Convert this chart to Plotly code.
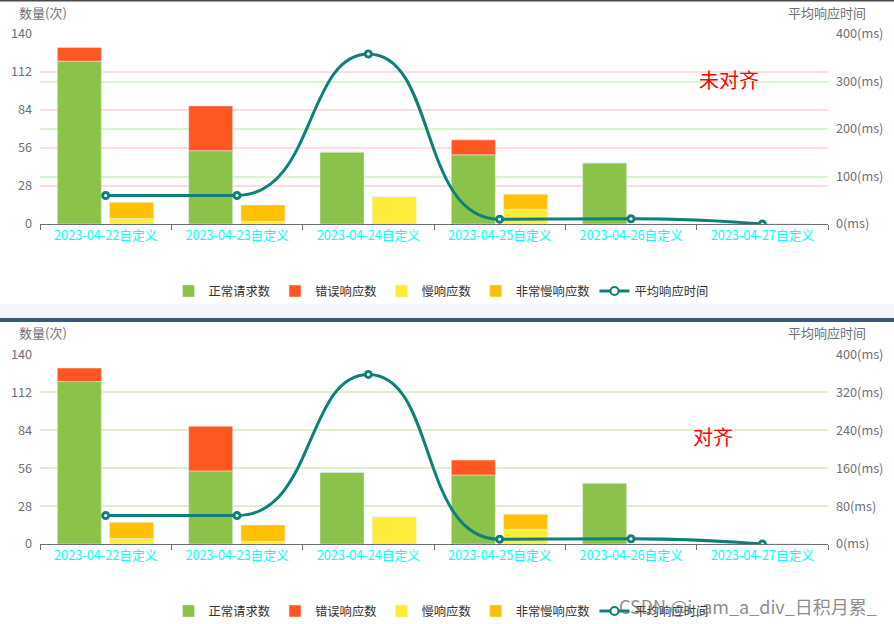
import math
import plotly.graph_objects as go

W, H = 894, 624

categories = ["2023-04-22自定义", "2023-04-23自定义", "2023-04-24自定义",
              "2023-04-25自定义", "2023-04-26自定义", "2023-04-27自定义"]
normal_req = [120, 54, 53, 51, 45, 0]
error_resp = [10, 33, 0, 11, 0, 0]
slow_resp = [4, 2, 20, 11, 0, 0]
very_slow_resp = [12, 12, 0, 11, 0, 0]
avg_resp_ms = [60, 60, 358, 10, 11, 0]

left_ticks = [0, 28, 56, 84, 112, 140]
right_ticks_top = [0, 100, 200, 300, 400]
right_ticks_bottom = [0, 80, 160, 240, 320, 400]

names = ["正常请求数", "错误响应数", "慢响应数", "非常慢响应数", "平均响应时间"]
colors = ["#8BC34A", "#FF5722", "#FFEB3B", "#FFC107", "#0F7F79"]

FONT = "Microsoft YaHei, Noto Sans CJK SC, sans-serif"
AXIS_GRAY = "#6E7079"

PLOT_L, PLOT_R = 40, 828
TOP_Y0, TOP_Y1 = 224, 34
BOT_Y0, BOT_Y1 = 544, 354.5


def px_x(p):
    return p / W


def px_y(p):
    return 1 - p / H


def clamp(v, a, b):
    lo, hi = min(a, b), max(a, b)
    return max(lo, min(hi, v))


def smooth_path(vals, cw, sy, smooth=0.5):
    """ECharts-style smooth bezier through the data points (pixel space),
    returned as an SVG path in data coordinates (category index, value)."""
    pts = [(i * cw, v * sy) for i, v in enumerate(vals)]
    n = len(pts)
    path = "M {:.4f},{:.4f}".format(pts[0][0] / cw, pts[0][1] / sy)
    cpx0, cpy0 = pts[0]
    prevX, prevY = pts[0]
    for k in range(1, n):
        x, y = pts[k]
        if k == n - 1:
            cpx1, cpy1 = x, y
            ncx, ncy = x, y
        else:
            nextX, nextY = pts[k + 1]
            vx, vy = nextX - prevX, nextY - prevY
            lp = math.hypot(x - prevX, y - prevY)
            ln = math.hypot(nextX - x, nextY - y)
            r = ln / (ln + lp)
            ncx = x + vx * smooth * r
            ncy = y + vy * smooth * r
            ncx = clamp(ncx, nextX, x)
            ncy = clamp(ncy, nextY, y)
            vx, vy = ncx - x, ncy - y
            cpx1 = x - vx * lp / ln
            cpy1 = y - vy * lp / ln
            cpx1 = clamp(cpx1, prevX, x)
            cpy1 = clamp(cpy1, prevY, y)
            vx, vy = x - cpx1, y - cpy1
            ncx = x + vx * ln / lp
            ncy = y + vy * ln / lp
        path += " C {:.4f},{:.4f} {:.4f},{:.4f} {:.4f},{:.4f}".format(
            cpx0 / cw, cpy0 / sy, cpx1 / cw, cpy1 / sy, x / cw, y / sy)
        cpx0, cpy0 = ncx, ncy
        prevX, prevY = x, y
    return path


fig = go.Figure()

BW = 0.335
OFF1 = -0.368
OFF2 = 0.03


def add_chart(xa, ya, ya2, legend, y0px, y1px):
    fig.add_trace(go.Bar(x=categories, y=normal_req, name=names[0], marker_color=colors[0],
                         width=BW, offset=OFF1, xaxis=xa, yaxis=ya, legend=legend))
    fig.add_trace(go.Bar(x=categories, y=error_resp, base=normal_req, name=names[1],
                         marker_color=colors[1], width=BW, offset=OFF1, xaxis=xa, yaxis=ya,
                         legend=legend))
    fig.add_trace(go.Bar(x=categories, y=slow_resp, name=names[2], marker_color=colors[2],
                         width=BW, offset=OFF2, xaxis=xa, yaxis=ya, legend=legend))
    fig.add_trace(go.Bar(x=categories, y=very_slow_resp, base=slow_resp, name=names[3],
                         marker_color=colors[3], width=BW, offset=OFF2, xaxis=xa, yaxis=ya,
                         legend=legend))
    # data-carrying markers of the average response time
    fig.add_trace(go.Scatter(x=categories, y=avg_resp_ms, name=names[4], mode="markers",
                             marker=dict(symbol="circle", size=7, color="white",
                                         line=dict(color=colors[4], width=2)),
                             xaxis=xa, yaxis=ya2, showlegend=False))
    # legend entry (line + hollow circle)
    fig.add_trace(go.Scatter(x=[None], y=[None], name=names[4], mode="lines+markers",
                             line=dict(color=colors[4], width=3),
                             marker=dict(symbol="circle", size=8, color="white",
                                         line=dict(color=colors[4], width=2)),
                             xaxis=xa, yaxis=ya2, legend=legend))
    # smooth line drawn above the bars, following the data through the axis scales
    cw = (PLOT_R - PLOT_L) / len(categories)
    sy = (y0px - y1px) / 400.0
    fig.add_shape(type="path", path=smooth_path(avg_resp_ms, cw, sy), xref=xa, yref=ya2,
                  line=dict(color=colors[4], width=3), layer="above")
    for i, v in enumerate(avg_resp_ms):
        fig.add_shape(type="circle", xref=xa, yref=ya2, xsizemode="pixel",
                      ysizemode="pixel", xanchor=i, yanchor=v, x0=-2.6, x1=2.6,
                      y0=-2.6, y1=2.6, fillcolor="white",
                      line=dict(color=colors[4], width=2), layer="above")


add_chart("x", "y", "y2", "legend", TOP_Y0, TOP_Y1)
add_chart("x2", "y3", "y4", "legend2", BOT_Y0, BOT_Y1)

xdom = [px_x(PLOT_L), px_x(PLOT_R)]
top_dom = [px_y(TOP_Y0), px_y(TOP_Y1)]
bot_dom = [px_y(BOT_Y0), px_y(BOT_Y1)]

TICKFONT = dict(color=AXIS_GRAY, size=12.7, family=FONT)
xcommon = dict(type="category", tickson="boundaries", ticks="outside", ticklen=5,
               tickcolor=AXIS_GRAY, showline=True, linecolor=AXIS_GRAY, linewidth=1,
               showgrid=False, zeroline=False, range=[-0.5, 5.5], automargin=False,
               tickfont=dict(color="#00FFFF", size=12.7, family=FONT))
ycommon = dict(showline=False, ticks="", zeroline=False, range=[0, 140], automargin=False,
               tickvals=left_ticks, tickfont=TICKFONT, ticklabelstandoff=7, gridwidth=1.5)


def right_axis(dom, anchor, over, ticks, grid):
    return dict(domain=dom, anchor=anchor, overlaying=over, side="right", range=[0, 400],
                tickmode="array", tickvals=ticks, ticktext=[f"{t}(ms)" for t in ticks],
                showgrid=True, gridcolor=grid, gridwidth=1.5, zeroline=False,
                showline=False, ticks="", ticklabelstandoff=7, tickfont=TICKFONT,
                automargin=False)


fig.update_layout(
    width=W, height=H, margin=dict(l=0, r=0, t=0, b=0, autoexpand=False),
    paper_bgcolor="white", plot_bgcolor="rgba(0,0,0,0)",
    barmode="overlay", showlegend=True,
    font=dict(family=FONT, size=12, color="#333"),
    xaxis=dict(domain=xdom, anchor="y", **xcommon),
    xaxis2=dict(domain=xdom, anchor="y3", **xcommon),
    yaxis=dict(domain=top_dom, anchor="x", gridcolor="#FFDCE1", **ycommon),
    yaxis2=right_axis(top_dom, "x", "y", right_ticks_top, "#D6F5D0"),
    yaxis3=dict(domain=bot_dom, anchor="x2", gridcolor="#E2EDCF", **ycommon),
    yaxis4=right_axis(bot_dom, "x2", "y3", right_ticks_bottom, "#E2EDCF"),
    legend=dict(orientation="h", x=px_x(441), xanchor="center", y=px_y(291), yanchor="middle",
                font=dict(size=12.3, color="#333", family=FONT), itemwidth=30,
                bgcolor="rgba(0,0,0,0)", traceorder="normal"),
    legend2=dict(orientation="h", x=px_x(441), xanchor="center", y=px_y(611), yanchor="middle",
                 font=dict(size=12.3, color="#333", family=FONT), itemwidth=30,
                 bgcolor="rgba(0,0,0,0)", traceorder="normal"),
)

# Axis names
for txt, x, y in [("数量(次)", 43, 12), ("平均响应时间", 827, 12),
                  ("数量(次)", 43, 332), ("平均响应时间", 827, 332)]:
    fig.add_annotation(text=txt, x=px_x(x), y=px_y(y), xref="paper", yref="paper",
                       showarrow=False, font=dict(color=AXIS_GRAY, size=13, family=FONT),
                       xanchor="center", yanchor="middle")

fig.add_annotation(text="未对齐", x=px_x(729), y=px_y(79), xref="paper", yref="paper",
                   showarrow=False, font=dict(color="#FF0000", size=20, family=FONT),
                   xanchor="center", yanchor="middle")
fig.add_annotation(text="对齐", x=px_x(713), y=px_y(436), xref="paper", yref="paper",
                   showarrow=False, font=dict(color="#FF0000", size=20, family=FONT),
                   xanchor="center", yanchor="middle")
fig.add_annotation(text="CSDN @i_am_a_div_日积月累_", x=px_x(879), y=px_y(606),
                   xref="paper", yref="paper", showarrow=False,
                   font=dict(color="rgba(110,110,110,0.8)", size=18, family=FONT),
                   xanchor="right", yanchor="middle")

# Frame decorations: top border, separator band
fig.add_shape(type="rect", xref="paper", yref="paper", x0=0, x1=1, y0=px_y(1.5), y1=1,
              fillcolor="#4a4a4a", line_width=0, layer="above")
fig.add_shape(type="rect", xref="paper", yref="paper", x0=0, x1=1, y0=px_y(318), y1=px_y(304),
              fillcolor="#F2F6FB", line_width=0, layer="below")
fig.add_shape(type="rect", xref="paper", yref="paper", x0=0, x1=1, y0=px_y(322), y1=px_y(318),
              fillcolor="#3B5878", line_width=0, layer="above")

fig.write_html("out.html", config={"displayModeBar": False}, post_script=(
    "document.body.style.margin='0';document.body.style.overflow='hidden';"
    "document.documentElement.style.overflow='hidden';"))
